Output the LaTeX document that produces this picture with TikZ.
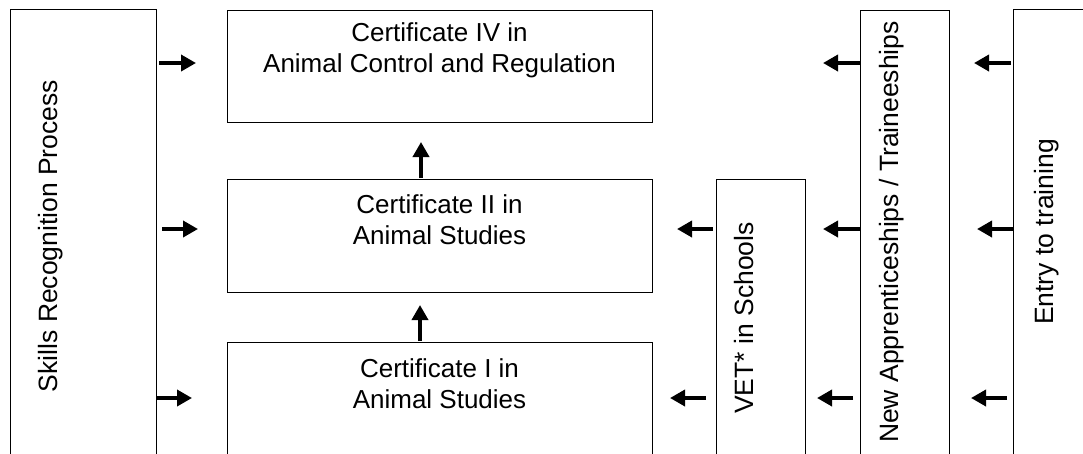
\documentclass[tikz,border=0pt]{standalone}
\usepackage{fontspec}
\setmainfont{Liberation Sans}
\usetikzlibrary{arrows.meta}
\begin{document}
\begin{tikzpicture}[x=1pt,y=1pt,
  boxshape/.style={draw=black, line width=1.4pt, rectangle, inner sep=0pt, anchor=north west},
  boxtext/.style={font=\fontsize{26}{31}\selectfont, align=center, inner sep=0pt},
  vtext/.style={font=\fontsize{26.5}{31}\selectfont, rotate=90, anchor=base, inner sep=0pt},
  arr/.style={line width=3.6pt, -{Triangle[length=15pt,width=16pt]}}]
\clip (0,0) rectangle (1083,-453);
\fill[white] (0,0) rectangle (1083,-453);
% boxes
\node[boxshape, minimum width=146pt, minimum height=470pt] (skills) at (10,-9) {};
\node[boxshape, minimum width=425pt, minimum height=112pt] (c4) at (227,-10) {};
\node[boxshape, minimum width=425pt, minimum height=113pt] (c2) at (227,-179) {};
\node[boxshape, minimum width=425pt, minimum height=140pt] (c1) at (227,-342) {};
\node[boxshape, minimum width=89pt, minimum height=300pt] (vet) at (716,-179) {};
\node[boxshape, minimum width=89pt, minimum height=470pt] (app) at (860,-10) {};
\node[boxshape, minimum width=100pt, minimum height=470pt] (entry) at (1013,-9) {};
% texts
\node[boxtext, anchor=north] (t4) at (439.5,-22) {Certificate IV in\\Animal Control and Regulation};
\node[boxtext, anchor=north] (t2) at (439.5,-194) {Certificate II in\\Animal Studies};
\node[boxtext, anchor=north] (t1) at (439.5,-358) {Certificate I in\\Animal Studies};
\node[vtext] (tskills) at (57,-236) {Skills Recognition Process};
\node[vtext] (tvet) at (753,-318) {VET* in Schools};
\node[vtext] (tapp) at (898,-232) {New Apprenticeships / Traineeships};
\node[vtext] (tentry) at (1053,-232) {Entry to training};
% arrow end points
\coordinate (s1a) at (159,-63);  \coordinate (s1b) at (196,-63);
\coordinate (s2a) at (162,-229); \coordinate (s2b) at (198,-229);
\coordinate (s3a) at (156,-398); \coordinate (s3b) at (192,-398);
\coordinate (v1a) at (421,-178); \coordinate (v1b) at (421,-142);
\coordinate (v2a) at (420,-341); \coordinate (v2b) at (420,-305);
\coordinate (e1a) at (713,-229); \coordinate (e1b) at (677,-229);
\coordinate (e2a) at (706,-398); \coordinate (e2b) at (670,-398);
\coordinate (p1a) at (860,-63);  \coordinate (p1b) at (823,-63);
\coordinate (p2a) at (860,-229); \coordinate (p2b) at (823,-229);
\coordinate (p3a) at (853,-398); \coordinate (p3b) at (817,-398);
\coordinate (n1a) at (1011,-63); \coordinate (n1b) at (974,-63);
\coordinate (n2a) at (1013,-229); \coordinate (n2b) at (977,-229);
\coordinate (n3a) at (1007,-398); \coordinate (n3b) at (971,-398);
% arrows
\foreach \p in {s1,s2,s3,v1,v2,e1,e2,p1,p2,p3,n1,n2,n3}
  \draw[arr] (\p a) -- (\p b);
\end{tikzpicture}
\end{document}
